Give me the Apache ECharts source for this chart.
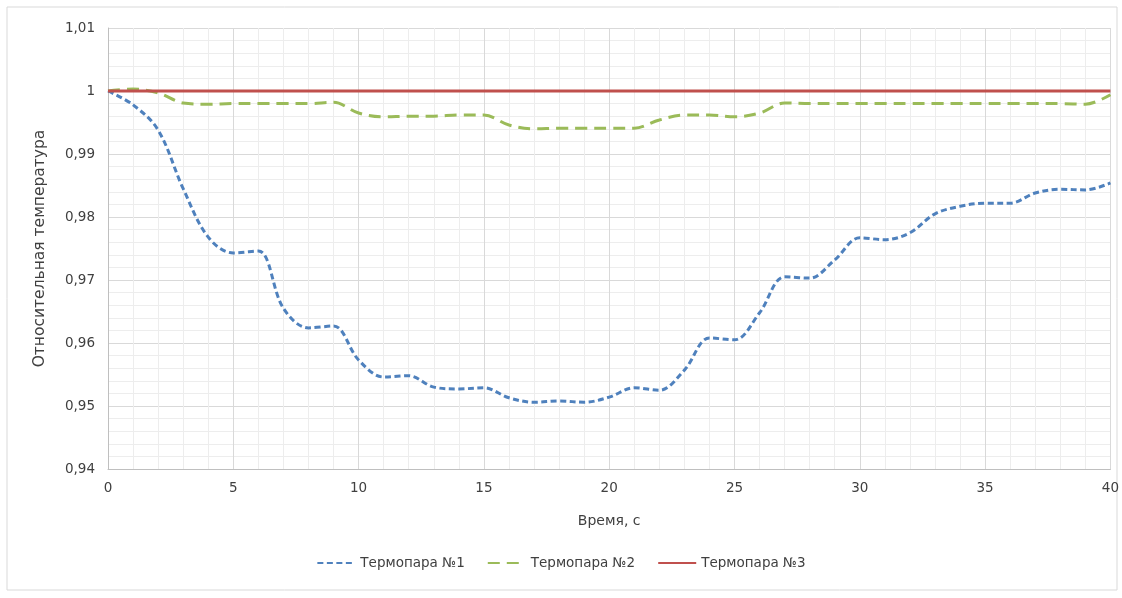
<!DOCTYPE html>
<html>
<head>
<meta charset="utf-8">
<script src="https://cdn.jsdelivr.net/npm/echarts@6/dist/echarts.min.js"></script>
<style>
  html, body { margin: 0; padding: 0; background: #fff; }
  #chart { width: 1122px; height: 598px; }
</style>
</head>
<body>
<div id="chart"></div>
<script>
// время, с
const times = [0, 1, 2, 3, 4, 5, 6, 7, 8, 9, 10, 11, 12, 13, 14, 15, 16, 17, 18, 19, 20,
  21, 22, 23, 24, 25, 26, 27, 28, 29, 30, 31, 32, 33, 34, 35, 36, 37, 38, 39, 40];

const thermo1 = [1.0, 0.9978, 0.9938, 0.9845, 0.9768, 0.9743, 0.9746, 0.9655, 0.9624, 0.9627, 0.9573,
  0.9546, 0.9548, 0.9530, 0.9527, 0.9529, 0.9513, 0.9506, 0.9508, 0.9506, 0.9514,
  0.9529, 0.9525, 0.9557, 0.9608, 0.9605, 0.9648, 0.9705, 0.9703, 0.9732, 0.9767,
  0.9764, 0.9775, 0.9805, 0.9817, 0.9822, 0.9822, 0.9838, 0.9844, 0.9843, 0.9854];

const thermo2 = [1.0, 1.0003, 0.9997, 0.9981, 0.9979, 0.998, 0.998, 0.998, 0.998, 0.9982, 0.9965,
  0.9959, 0.996, 0.996, 0.9962, 0.9962, 0.9946, 0.994, 0.9941, 0.9941, 0.9941,
  0.9941, 0.9954, 0.9962, 0.9962, 0.9959, 0.9965, 0.9981, 0.998, 0.998, 0.998,
  0.998, 0.998, 0.998, 0.998, 0.998, 0.998, 0.998, 0.998, 0.9979, 0.9994];

const thermo3 = [1, 1, 1, 1, 1, 1, 1, 1, 1, 1, 1, 1, 1, 1, 1, 1, 1, 1, 1, 1, 1,
  1, 1, 1, 1, 1, 1, 1, 1, 1, 1, 1, 1, 1, 1, 1, 1, 1, 1, 1, 1];

const names = ["Термопара №1", "Термопара №2", "Термопара №3"];

const font = "DejaVu Sans";
const textColor = "#404040";

function pairs(vals) {
  return times.map((t, i) => [t, vals[i]]);
}

// 0.99 -> "0,99"
function comma(v) {
  return String(+v.toFixed(3)).replace(".", ",");
}

const myChart = echarts.init(document.getElementById("chart"));

const option = {
  animation: false,
  textStyle: { fontFamily: font },
  graphic: [
    {
      type: "rect",
      shape: { x: 7, y: 7, width: 1110, height: 583 },
      style: { fill: "none", stroke: "#d9d9d9", lineWidth: 1 },
      silent: true,
    },
  ],
  grid: { left: 108, right: 10, top: 28, bottom: 129 },
  legend: {
    bottom: 23,
    left: "center",
    itemWidth: 38,
    itemHeight: 10,
    itemGap: 22,
    itemStyle: { opacity: 0 },
    textStyle: { color: textColor, fontSize: 13.5, fontFamily: font },
    data: names,
  },
  xAxis: {
    type: "value",
    min: 0,
    max: 40,
    interval: 5,
    name: "Время, с",
    nameLocation: "middle",
    nameGap: 45,
    nameTextStyle: { color: textColor, fontSize: 14 },
    axisLine: { show: true, lineStyle: { color: "#bfbfbf" } },
    axisTick: { show: false },
    axisLabel: { color: textColor, fontSize: 13.5, margin: 12 },
    splitLine: { show: true, lineStyle: { color: "#d9d9d9" } },
    minorTick: { show: false, splitNumber: 5 },
    minorSplitLine: { show: true, lineStyle: { color: "#ededed" } },
  },
  yAxis: {
    type: "value",
    min: 0.94,
    max: 1.01,
    interval: 0.01,
    name: "Относительная температура",
    nameLocation: "middle",
    nameGap: 60,
    nameTextStyle: { color: textColor, fontSize: 15.5 },
    axisLine: { show: true, lineStyle: { color: "#bfbfbf" } },
    axisTick: { show: false },
    axisLabel: { color: textColor, fontSize: 13.5, margin: 13, formatter: comma },
    splitLine: { show: true, lineStyle: { color: "#d9d9d9" } },
    minorTick: { show: false, splitNumber: 5 },
    minorSplitLine: { show: true, lineStyle: { color: "#ededed" } },
  },
  series: [
    {
      name: names[0],
      type: "line",
      data: pairs(thermo1),
      smooth: 0.35,
      symbol: "none",
      color: "#4F81BD",
      lineStyle: { width: 3, type: [6, 3.5] },
      z: 3,
    },
    {
      name: names[1],
      type: "line",
      data: pairs(thermo2),
      smooth: 0.35,
      symbol: "none",
      color: "#9BBB59",
      lineStyle: { width: 3, type: [12, 7] },
      z: 2,
    },
    {
      name: names[2],
      type: "line",
      data: pairs(thermo3),
      symbol: "none",
      color: "#C0504D",
      lineStyle: { width: 3 },
      z: 4,
    },
  ],
};

myChart.setOption(option);
</script>
</body>
</html>
